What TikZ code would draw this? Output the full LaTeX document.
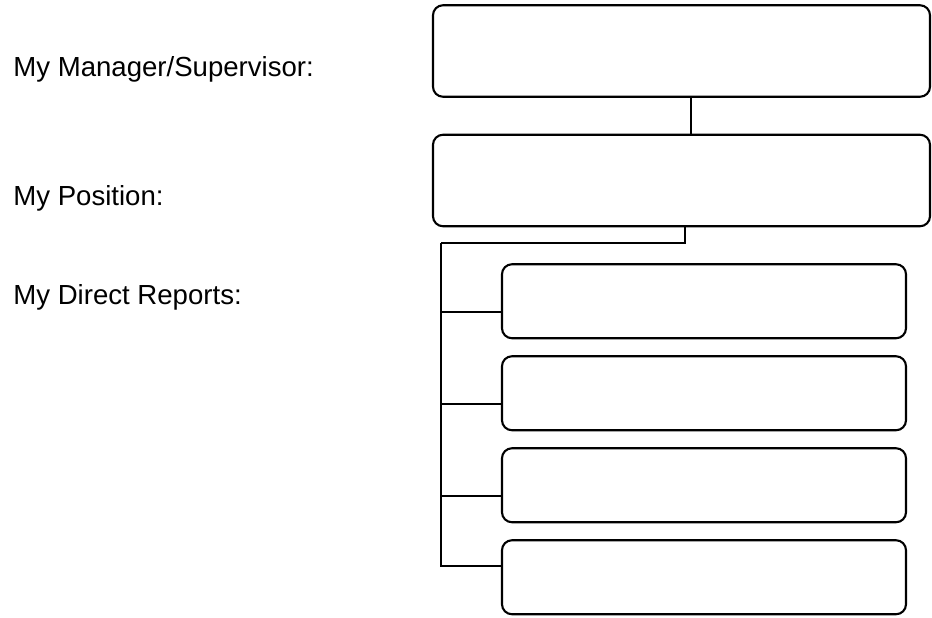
\documentclass[tikz,border=0pt]{standalone}
\usepackage{fontspec}
\setmainfont{Liberation Sans}
\usepackage{tikz}
\usetikzlibrary{positioning}
\tikzstyle{post} = [rectangle, rounded corners=0.2cm, minimum width=9.94cm, minimum height=1.83cm, outer sep=0pt, draw=black, line width=1.2pt]
\tikzstyle{report} = [rectangle, rounded corners=0.2cm, minimum width=8.08cm, minimum height=1.48cm, outer sep=0pt, draw=black, line width=1.2pt]
\tikzstyle{heading} = [anchor=base west, inner sep=0pt, font=\fontsize{15.7}{18}\selectfont]
\tikzstyle{wire} = [line width=1.2pt]

\begin{document}
\begin{tikzpicture}[node distance=0.76cm]

\useasboundingbox (0,0) rectangle (18.64,-12.34);

\node (mgr) [post] at (13.63,-1.02) {};
\node (pos) [post, below=of mgr] {};
\node (rep1) [report, below=of pos, xshift=0.45cm] {};
\node (rep2) [report, below=0.36cm of rep1] {};
\node (rep3) [report, below=0.36cm of rep2] {};
\node (rep4) [report, below=0.36cm of rep3] {};

% captions on the left
\node (lblmgr) [heading] at (0.26,-1.52) {My Manager/Supervisor:};
\node (lblpos) [heading] at (0.26,-4.10) {My Position:};
\node (lblrep) [heading] at (0.26,-6.08) {My Direct Reports:};

% reporting lines
\coordinate [below=0.34cm of pos.south west, xshift=0.16cm] (bus);
\draw [wire] ([xshift=0.19cm]mgr.south) -- ([xshift=0.19cm]pos.north);
\draw [wire] ([xshift=0.07cm]pos.south) |- (bus);
\foreach \i in {1,2,3}
  \draw [wire] ([yshift=-0.21cm]rep\i.west) -| (bus);
\draw [wire] ([yshift=0.23cm]rep4.west) -| (bus);

\end{tikzpicture}
\end{document}
